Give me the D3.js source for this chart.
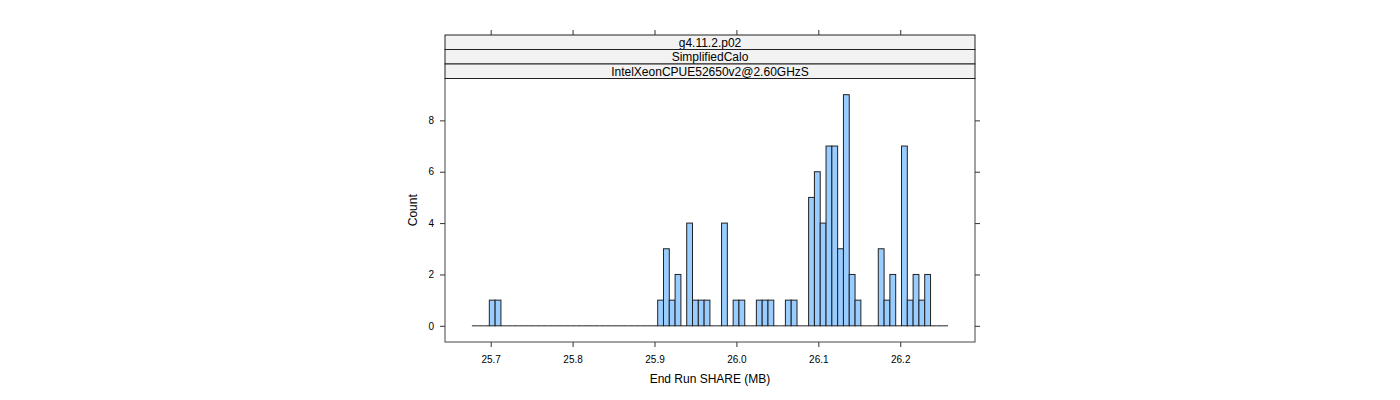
<!DOCTYPE html>
<html>
<head>
<meta charset="utf-8">
<script src="https://cdn.jsdelivr.net/npm/d3@7"></script>
<style>
  body { margin: 0; background: #fff; }
  svg text { font-family: "Liberation Sans", Arial, sans-serif; fill: #000; }
</style>
</head>
<body>
<svg width="1400" height="400"></svg>
<script>
// histogram bins: first break, bin width, counts per bin
var breakStart = 25.67705;
var binWidth = 0.007088;
var counts = [
  0, 0, 0, 1, 1, 0, 0, 0, 0, 0,
  0, 0, 0, 0, 0, 0, 0, 0, 0, 0,
  0, 0, 0, 0, 0, 0, 0, 0, 0, 0,
  0, 0, 1, 3, 1, 2, 0, 4, 1, 1,
  1, 0, 0, 4, 0, 1, 1, 0, 0, 1,
  1, 1, 0, 0, 1, 1, 0, 0, 5, 6,
  4, 7, 7, 3, 9, 2, 1, 0, 0, 0,
  3, 1, 2, 0, 7, 1, 2, 1, 2, 0,
  0, 0
];
var xTicks = [25.7, 25.8, 25.9, 26.0, 26.1, 26.2];
var yTicks = [0, 2, 4, 6, 8];
var stripLabels = ["g4.11.2.p02", "SimplifiedCalo", "IntelXeonCPUE52650v2@2.60GHzS"];

var svg = d3.select("svg");

// panel box
var panel = { left: 445, right: 975, top: 78.5, bottom: 342 };
var stripH = 14.5;

var x = d3.scaleLinear().domain([25.6442, 26.2913]).range([panel.left, panel.right]);
var y = d3.scaleLinear().domain([-0.63, 9.63]).range([panel.bottom, panel.top]);

var bins = counts.map(function (c, i) {
  return { x0: breakStart + i * binWidth, x1: breakStart + (i + 1) * binWidth, n: c };
});

// empty bins show up as a flat line at zero
svg.append("g").selectAll("line")
  .data(bins.filter(function (d) { return d.n === 0; }))
  .join("line")
  .attr("x1", function (d) { return x(d.x0); })
  .attr("x2", function (d) { return x(d.x1); })
  .attr("y1", y(0)).attr("y2", y(0))
  .attr("stroke", "#222");

svg.append("g").selectAll("rect")
  .data(bins.filter(function (d) { return d.n > 0; }))
  .join("rect")
  .attr("x", function (d) { return x(d.x0); })
  .attr("width", function (d) { return x(d.x1) - x(d.x0); })
  .attr("y", function (d) { return y(d.n); })
  .attr("height", function (d) { return y(0) - y(d.n); })
  .attr("fill", "#99CCFF")
  .attr("stroke", "#222")
  .attr("stroke-width", 1);

// panel border
svg.append("rect")
  .attr("x", panel.left).attr("y", panel.top)
  .attr("width", panel.right - panel.left).attr("height", panel.bottom - panel.top)
  .attr("fill", "none").attr("stroke", "#444");

// strips
var strips = svg.append("g");
stripLabels.forEach(function (lab, i) {
  var top = panel.top - stripH * (stripLabels.length - i);
  strips.append("rect")
    .attr("x", panel.left).attr("y", top)
    .attr("width", panel.right - panel.left).attr("height", stripH)
    .attr("fill", "#F2F2F2").attr("stroke", "#222");
  strips.append("text")
    .attr("x", (panel.left + panel.right) / 2)
    .attr("y", top + stripH / 2)
    .attr("dy", "0.36em")
    .attr("text-anchor", "middle")
    .style("font-size", "12px")
    .text(lab);
});
var stripTop = panel.top - stripH * stripLabels.length;

// axes: bottom with labels, top ticks above strips
var bottomAxis = d3.axisBottom(x).tickValues(xTicks).tickFormat(d3.format(".1f")).tickSize(5).tickPadding(9);
svg.append("g").attr("transform", "translate(0," + panel.bottom + ")").call(bottomAxis);

svg.append("g").attr("transform", "translate(0," + stripTop + ")")
  .call(d3.axisTop(x).tickValues(xTicks).tickSize(5).tickFormat(""));

svg.append("g").attr("transform", "translate(" + panel.left + ",0)")
  .call(d3.axisLeft(y).tickValues(yTicks).tickSize(5).tickPadding(6));

svg.append("g").attr("transform", "translate(" + panel.right + ",0)")
  .call(d3.axisRight(y).tickValues(yTicks).tickSize(5).tickFormat(""));

svg.selectAll(".domain").remove();
svg.selectAll(".tick line").attr("stroke", "#333");
svg.selectAll(".tick text").style("font-size", "10px").attr("fill", "#000");

// axis titles
svg.append("text")
  .attr("x", (panel.left + panel.right) / 2)
  .attr("y", 383)
  .attr("text-anchor", "middle")
  .style("font-size", "12px")
  .text("End Run SHARE (MB)");

svg.append("text")
  .attr("transform", "translate(417," + ((panel.top + panel.bottom) / 2) + ") rotate(-90)")
  .attr("text-anchor", "middle")
  .style("font-size", "12px")
  .text("Count");
</script>
</body>
</html>
